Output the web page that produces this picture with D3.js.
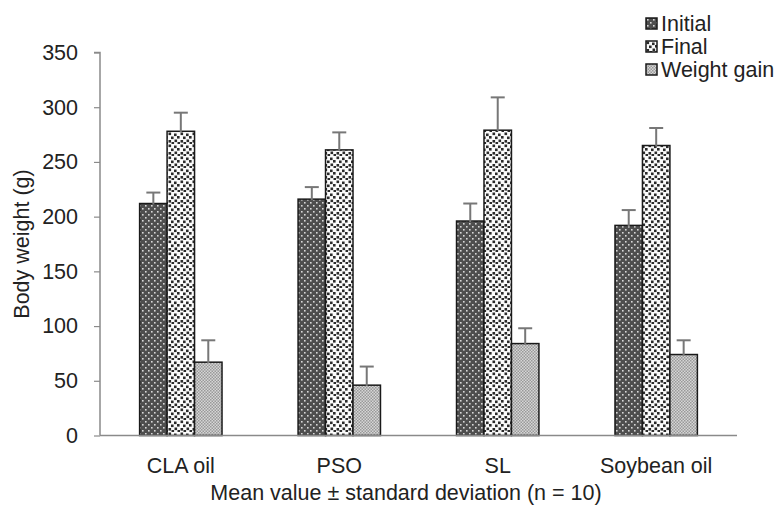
<!DOCTYPE html>
<html>
<head>
<meta charset="utf-8">
<script src="https://cdn.jsdelivr.net/npm/d3@7"></script>
<style>
  body { margin: 0; background: #fff; }
  text { font-family: "Liberation Sans", Arial, sans-serif; fill: #222; }
</style>
</head>
<body>
<div id="chart"></div>
<script>
const categories = ['CLA oil', 'PSO', 'SL', 'Soybean oil'];
const seriesNames = ['Initial', 'Final', 'Weight gain'];
const initialMean = [212, 216, 196, 192];
const initialSd = [10, 11, 16, 14];
const finalMean = [278, 261, 279, 265];
const finalSd = [17, 16, 30, 16];
const gainMean = [67, 46, 84, 74];
const gainSd = [20, 17, 14, 13];
const yTicks = [0, 50, 100, 150, 200, 250, 300, 350];

const width = 774, height = 505;
const plotLeft = 100, plotRight = 737, plotTop = 52.5, plotBottom = 435.5;
const fontSize = '21.5px';

const svg = d3.select('#chart').append('svg')
  .attr('width', width).attr('height', height);

// patterns for the three series
const defs = svg.append('defs');
const pInit = defs.append('pattern').attr('id', 'p0')
  .attr('patternUnits', 'userSpaceOnUse').attr('width', 6).attr('height', 6);
pInit.append('rect').attr('width', 6).attr('height', 6).attr('fill', '#4e4e4e');
pInit.append('rect').attr('x', 1).attr('y', 1).attr('width', 1.6).attr('height', 1.6).attr('fill', '#d8d8d8');
pInit.append('rect').attr('x', 4).attr('y', 4).attr('width', 1.6).attr('height', 1.6).attr('fill', '#d8d8d8');

// scattered squares, fixed positions in a 12px tile
const pFin = defs.append('pattern').attr('id', 'p1')
  .attr('patternUnits', 'userSpaceOnUse').attr('width', 12).attr('height', 12);
pFin.append('rect').attr('width', 12).attr('height', 12).attr('fill', '#fbfbfb');
[[0.5, 0.5], [6, 1.5], [3, 4.5], [9, 4], [0.5, 8], [6.5, 7.5], [3.5, 10], [9.5, 10]].forEach(([x, y]) => {
  pFin.append('rect').attr('x', x).attr('y', y).attr('width', 2.6).attr('height', 2.6).attr('fill', '#2a2a2a');
});

const pGain = defs.append('pattern').attr('id', 'p2')
  .attr('patternUnits', 'userSpaceOnUse').attr('width', 3).attr('height', 3);
pGain.append('rect').attr('width', 3).attr('height', 3).attr('fill', '#d6d6d6');
pGain.append('rect').attr('width', 1.5).attr('height', 1.5).attr('fill', '#999');
pGain.append('rect').attr('x', 1.5).attr('y', 1.5).attr('width', 1.5).attr('height', 1.5).attr('fill', '#999');

const y = d3.scaleLinear().domain([0, 350]).range([plotBottom, plotTop]);
const x0 = d3.scaleBand().domain(categories).range([plotLeft, plotRight])
  .paddingInner(0.48).paddingOuter(0.25);
const x1 = d3.scaleBand().domain(seriesNames).range([0, x0.bandwidth()]);

const means = [initialMean, finalMean, gainMean];
const sds = [initialSd, finalSd, gainSd];

const rows = [];
categories.forEach((c, i) => {
  seriesNames.forEach((s, j) => {
    rows.push({ cat: c, series: s, k: j, mean: means[j][i], sd: sds[j][i] });
  });
});

// y axis
const yAxis = svg.append('g').attr('transform', `translate(${plotLeft},0)`)
  .call(d3.axisLeft(y).tickValues(yTicks).tickSize(6).tickPadding(16));
yAxis.select('.domain').attr('stroke', '#8a8a8a').attr('stroke-width', 1.5)
  .attr('d', `M-6,${plotTop}H0V${plotBottom}`);
yAxis.selectAll('.tick line').attr('stroke', '#8a8a8a').attr('stroke-width', 1.2);
yAxis.selectAll('.tick text').style('font-size', fontSize).attr('fill', '#222');

// bars
svg.append('g').selectAll('rect').data(rows).join('rect')
  .attr('x', d => x0(d.cat) + x1(d.series))
  .attr('y', d => y(d.mean))
  .attr('width', x1.bandwidth())
  .attr('height', d => y(0) - y(d.mean))
  .attr('fill', d => `url(#p${d.k})`)
  .attr('stroke', '#1a1a1a').attr('stroke-width', 1.5);

// error bars (upper only)
const eb = svg.append('g').attr('stroke', '#777').attr('stroke-width', 2);
rows.forEach(d => {
  const cx = x0(d.cat) + x1(d.series) + x1.bandwidth() / 2;
  eb.append('line').attr('x1', cx).attr('x2', cx)
    .attr('y1', y(d.mean) + 1).attr('y2', y(d.mean + d.sd));
  eb.append('line').attr('x1', cx - 7).attr('x2', cx + 7)
    .attr('y1', y(d.mean + d.sd)).attr('y2', y(d.mean + d.sd));
});

// x axis
svg.append('line').attr('x1', plotLeft).attr('x2', plotRight)
  .attr('y1', plotBottom).attr('y2', plotBottom)
  .attr('stroke', '#8a8a8a').attr('stroke-width', 1.5);

svg.append('g').selectAll('text').data(categories).join('text')
  .attr('x', d => x0(d) + x0.bandwidth() / 2)
  .attr('y', 473)
  .attr('text-anchor', 'middle')
  .style('font-size', fontSize)
  .text(d => d);

svg.append('text')
  .attr('x', 406).attr('y', 500)
  .attr('text-anchor', 'middle')
  .style('font-size', fontSize)
  .text('Mean value \u00b1 standard deviation (n = 10)');

svg.append('text')
  .attr('transform', `translate(29,${(plotTop + plotBottom) / 2}) rotate(-90)`)
  .attr('text-anchor', 'middle')
  .style('font-size', fontSize)
  .text('Body weight (g)');

// legend
const lg = svg.append('g').attr('transform', 'translate(646,18)');
seriesNames.forEach((s, j) => {
  const g = lg.append('g').attr('transform', `translate(0,${j * 23})`);
  g.append('rect').attr('width', 11).attr('height', 11)
    .attr('fill', `url(#p${j})`).attr('stroke', '#1a1a1a').attr('stroke-width', 1.5);
  g.append('text').attr('x', 15).attr('y', 13)
    .style('font-size', fontSize).text(s);
});
</script>
</body>
</html>
